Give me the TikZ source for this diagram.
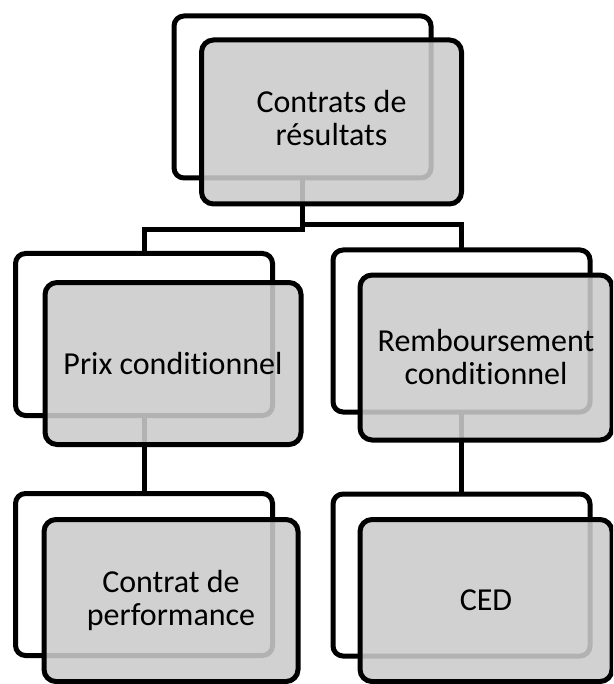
\documentclass[tikz,border=0pt]{standalone}
\usepackage{fontspec}
\setmainfont{Carlito}[Ligatures=NoCommon]
\usetikzlibrary{backgrounds}

\definecolor{boxgray}{gray}{0.795}

\tikzset{
  backbox/.style={draw=black, line width=5pt, fill=white, rounded corners=10pt,
    minimum width=257pt, minimum height=162pt, inner sep=0pt, outer sep=0pt},
  frontbox/.style={draw=black, line width=5pt, fill=boxgray, fill opacity=0.88,
    text opacity=1, rounded corners=12pt, minimum width=256pt, minimum height=162pt,
    inner sep=0pt, outer sep=0pt, align=center,
    font=\fontsize{32pt}{33pt}\selectfont},
  link/.style={draw=black, line width=5pt}
}

\begin{document}
\begin{tikzpicture}[x=1pt, y=-1pt]
  \useasboundingbox (0,0) rectangle (613,684);
  \clip (0,0) rectangle (613,684);

  % root
  \node[backbox]  (topB) at (302.5,97)  {};
  \node[frontbox, minimum width=260pt, minimum height=164pt] (top) at (331.5,122)
    {\raisebox{-4pt}{\begin{tabular}{@{}c@{}}Contrats de\\résultats\end{tabular}}};

  % second level
  \node[backbox]  (prixB) at (144,334.5) {};
  \node[frontbox] (prix)  at (173,363.5) {Prix conditionnel};

  \node[backbox]  (rembB) at (461.5,331) {};
  \node[frontbox, minimum width=252pt, minimum height=165pt] (remb) at (486,357.5) {Remboursement\\conditionnel};

  % third level
  \node[backbox]  (perfB) at (144,574.5) {};
  \node[frontbox, minimum width=254pt] (perf) at (171,600.5) {Contrat de\\performance};

  \node[backbox]  (cedB) at (461.5,575) {};
  \node[frontbox, minimum width=252pt] (ced) at (486,600.5) {CED};

  % elbow connectors, kept underneath the boxes
  \begin{scope}[on background layer]
    \draw[link] (topB.south) -- ++(0,52) -| (prixB.north);
    \draw[link] (topB.south) -- ++(0,47) -| (rembB.north);
    \draw[link] (prixB.south) -- (perfB.north);
    \draw[link] (rembB.south) -- (cedB.north);
  \end{scope}
\end{tikzpicture}
\end{document}
